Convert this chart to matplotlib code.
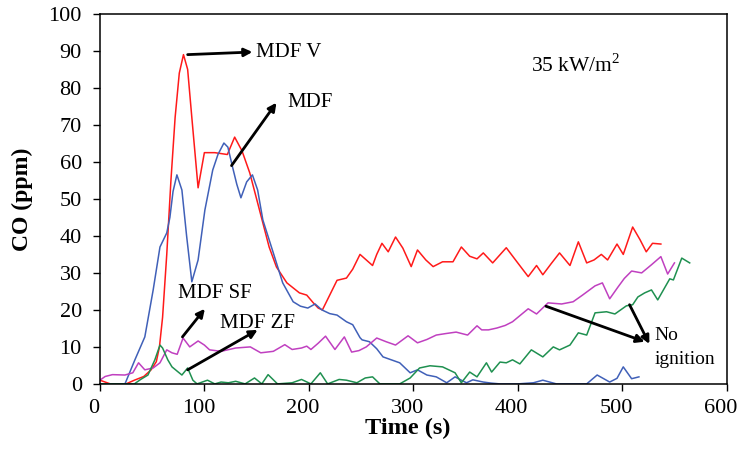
import numpy as np
import matplotlib
matplotlib.use("Agg")
import matplotlib.pyplot as plt
from matplotlib.transforms import ScaledTranslation

plt.rcParams['font.family'] = ['Liberation Serif', 'DejaVu Serif']
plt.rcParams['mathtext.fontset'] = 'custom'
plt.rcParams['mathtext.rm'] = 'Liberation Serif'

# MDF V (red)
t_v = [0, 10, 25, 33, 42, 49, 54, 57, 60, 64, 68, 72, 76, 80, 84, 88, 94, 100, 110, 122, 129,
       136, 143.5, 150, 156, 162, 169, 179, 191, 198, 204, 209, 213, 220, 227, 236, 242, 249, 255,
       261, 265, 270, 276, 283, 290, 298, 304, 312, 319, 328, 338, 346, 354, 361, 367, 376, 389,
       400, 410, 418, 424, 432, 440, 450, 458, 466, 473, 480, 486, 495, 501, 510, 517, 523, 529, 537]
co_v = [1, 0, 0, 1, 2, 3.8, 6, 10, 18, 35, 55, 72, 84, 89, 85, 72, 53, 62.5, 62.5, 62, 66.7,
        63, 57, 50, 43.5, 37, 31.6, 27.3, 24.6, 24, 22, 20.5, 20, 24, 28, 28.6, 31, 35, 33.5,
        32, 35, 38, 35.7, 39.7, 36.7, 31.7, 36.2, 33.5, 31.7, 33, 33, 37, 34.5, 33.8, 35.4, 32.7, 36.8,
        32.7, 29, 32, 29.5, 32.5, 35.4, 32, 38.4, 32.7, 33.5, 35, 33.5, 37.8, 35, 42.4, 39, 35.7, 38, 37.8]

# MDF (blue)
t_m = [0, 15, 24, 33.5, 43, 51, 57.5, 64, 67, 70, 73.7, 78.5, 83, 88, 94, 100.5, 108, 113, 118.7,
       122.5, 127, 131, 135, 140.5, 146, 151, 156, 166, 175, 185, 192, 199, 206, 212.5, 220, 227, 236,
       242, 249, 251, 258, 265, 271, 279, 287, 297, 304, 313, 322, 332, 340, 346, 351, 357, 367, 375,
       383, 400, 415, 424, 437, 450, 466, 476, 488, 495, 501, 509, 516]
co_m = [0, 0, 0, 6.5, 12.7, 25.4, 37, 40.8, 45, 52, 56.5, 52.4, 40, 27.6, 33.5, 47, 57.8, 62, 65.1,
        64, 58.6, 54, 50.3, 54.6, 56.5, 52.4, 44.3, 35.4, 27.3, 22.2, 21, 20.5, 21.6, 20, 19, 18.6, 16.8,
        16, 12.5, 11.9, 11.4, 9.5, 7.3, 6.5, 5.7, 3, 3.8, 2.4, 1.9, 0.3, 1.9, 1, 0.3, 1.1, 0.5, 0.2,
        0, 0, 0.3, 1, 0, 0, 0, 2.4, 0.5, 1.5, 4.6, 1.4, 1.9]

# MDF SF (magenta)
t_sf = [0, 5, 12, 24, 31.5, 37, 43, 51, 57.5, 64, 69, 74, 79.6, 86, 94, 100, 105, 116, 130, 144,
        154, 166, 177, 184, 193, 198, 202, 209, 216, 225, 234, 241, 248, 255, 265, 274, 283, 295, 304,
        313, 322, 331, 341, 352, 361, 365.5, 372, 380, 388, 395, 410, 418, 429, 442, 453, 462, 474,
        481, 488, 496, 502, 509, 518.6, 528, 537, 543.5, 550]
co_sf = [1, 2, 2.5, 2.4, 3, 5.7, 3.8, 4.3, 5.7, 9.2, 8.4, 8, 12.4, 10, 11.6, 10.5, 9.2, 8.8, 9.7, 10,
         8.4, 8.8, 10.6, 9.3, 9.7, 10.2, 9.3, 11, 12.9, 9.3, 12.7, 8.6, 9, 10, 12.4, 11.4, 10.5, 13, 11.1,
         12, 13.2, 13.6, 14, 13.2, 15.7, 14.6, 14.6, 15.1, 15.8, 16.8, 20.3, 18.9, 21.9, 21.6, 22.2, 24, 26.5,
         27.3, 23, 26.2, 28.5, 30.5, 30, 32.2, 34.4, 29.7, 32.7]

# MDF ZF (green)
t_zf = [0, 20, 33, 39, 46, 52.6, 57.5, 60, 65, 69, 75, 78.5, 84, 89, 93, 103, 110, 116, 123, 130,
        139, 148, 155, 161, 170, 184, 193, 202, 211, 218, 229, 236, 246, 254, 261, 268, 287, 297, 306,
        316, 328, 340, 346, 354, 361, 370, 375, 383, 389, 395, 402, 413, 424, 434, 440, 450, 458,
        466, 474, 485, 493, 504, 510, 515, 521.5, 528, 534, 545.5, 549, 557, 564.6]
co_zf = [0, 0, 0, 1.2, 2.4, 6.5, 10.5, 9.7, 6.5, 4.6, 3.2, 2.4, 4.3, 1, 0, 1, 0, 0.5, 0.3, 0.7,
         0, 1.6, 0, 2.5, 0, 0.3, 1.2, 0, 3, 0, 1.2, 1, 0.3, 1.6, 1.9, 0, 0, 1.6, 4.3,
         4.9, 4.6, 3, 0.3, 3.2, 1.9, 5.7, 3.2, 5.9, 5.7, 6.5, 5.4, 9.2, 7.3, 10, 9.2, 10.5, 13.8,
         13.2, 19.2, 19.5, 18.9, 21.1, 21.4, 23.5, 24.6, 25.4, 22.7, 28.4, 28.1, 34, 32.7]

fig = plt.figure(figsize=(7.4, 4.49), dpi=100)
ax = fig.add_axes([0.135, 0.145, 0.847, 0.824])
lw = 1.1
ax.plot(t_v, co_v, color='#ff1a1a', lw=lw)
ax.plot(t_m, co_m, color='#4060b8', lw=lw)
ax.plot(t_sf, co_sf, color='#c040c0', lw=lw)
ax.plot(t_zf, co_zf, color='#1f9050', lw=lw)

ax.set_xlim([0, 600])
ax.set_ylim([0, 100])
ax.set_xticks(np.arange(0, 601, 100))
ax.set_yticks(np.arange(0, 101, 10))
ax.tick_params(direction='out', length=5, width=1, labelsize=16)
ax.tick_params(axis='x', pad=6)
ax.tick_params(axis='y', pad=8)
# x tick labels sit a bit left of their ticks in the original
shift = ScaledTranslation(-6 / 100, 0, fig.dpi_scale_trans)
for lab in ax.get_xticklabels():
    lab.set_transform(lab.get_transform() + shift)
for s in ax.spines.values():
    s.set_linewidth(1.1)
ax.set_xlabel('Time (s)', fontsize=17.5, fontweight='bold', labelpad=0)
ax.xaxis.label.set_transform(ax.xaxis.label.get_transform() + shift)
ax.set_ylabel('CO (ppm)', fontsize=17, fontweight='bold', labelpad=11)

arr = dict(arrowstyle='-|>', color='k', lw=2, mutation_scale=12, shrinkA=0, shrinkB=0)
ax.annotate('', xy=(146, 89.7), xytext=(84, 89), arrowprops=arr)
ax.text(149, 89.5, 'MDF V', fontsize=15, va='center')
ax.annotate('', xy=(169, 76), xytext=(126, 59), arrowprops=arr)
ax.text(179, 76, 'MDF', fontsize=15, va='center')
ax.annotate('', xy=(100.5, 20.3), xytext=(79, 12.7), arrowprops=arr)
ax.text(75, 24.3, 'MDF SF', fontsize=15, va='center')
ax.annotate('', xy=(151, 14.6), xytext=(84, 3.8), arrowprops=arr)
ax.text(115, 16.2, 'MDF ZF', fontsize=15, va='center')
ax.annotate('', xy=(521.5, 11.4), xytext=(427, 21), arrowprops=arr)
ax.annotate('', xy=(526, 10.8), xytext=(507, 21.4), arrowprops=arr)
ax.text(531, 13, 'No', fontsize=14, va='center')
ax.text(531, 6.5, 'ignition', fontsize=14, va='center')
ax.text(413, 86, '35 kW/m$^{\\mathrm{2}}$', fontsize=15.5, va='center')

fig.savefig('out.png', dpi=100)
